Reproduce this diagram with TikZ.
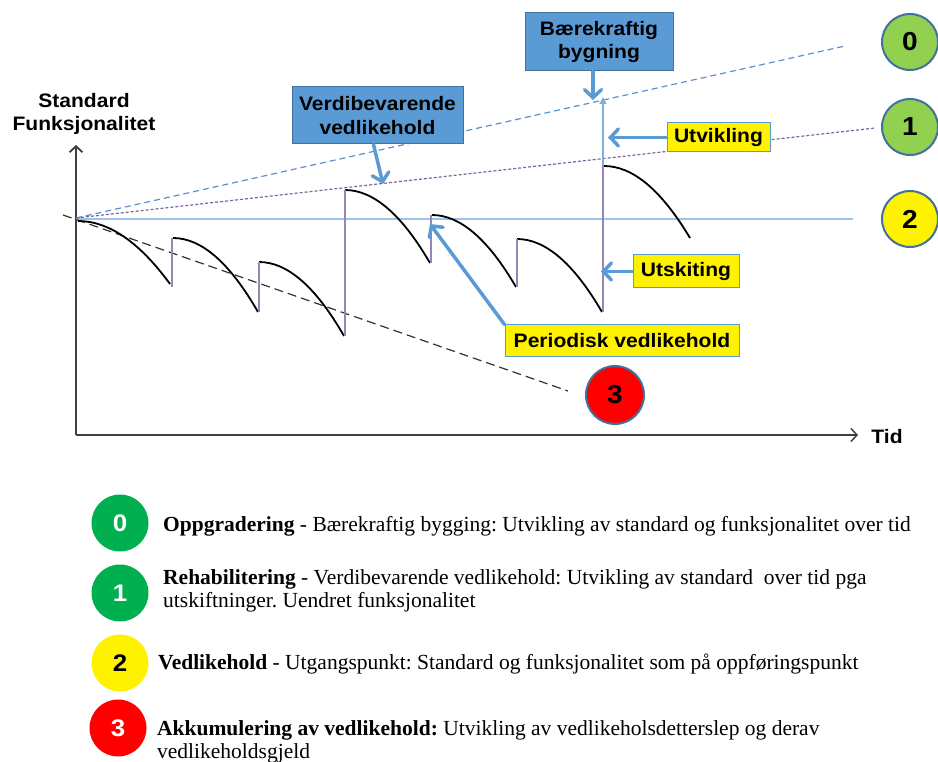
\documentclass[tikz,border=0pt]{standalone}
\usepackage{fontspec}
\setmainfont{Liberation Serif}
\newfontfamily\labelfont{Liberation Sans}[FakeStretch=1.08]
\usepackage{tikz}
\usetikzlibrary{arrows.meta}
\frenchspacing
\definecolor{boxBlue}{HTML}{5B9BD5}
\definecolor{boxEdge}{HTML}{41719C}
\definecolor{lineBlue}{HTML}{5B8FD0}
\definecolor{linePurple}{HTML}{8064A2}
\definecolor{baseBlue}{HTML}{9DC3E6}
\definecolor{levelGreen}{HTML}{92D050}
\definecolor{legendGreen}{HTML}{00B050}
\definecolor{axisGray}{HTML}{404040}
\newcommand{\lblsize}{\fontsize{19.5pt}{23.5pt}\selectfont}
\newcommand{\legsize}{\fontsize{21.5pt}{23pt}\selectfont}
\tikzstyle{fLabel} = [inner sep=0pt, align=center, font=\labelfont\bfseries\lblsize]
\tikzstyle{fBlueLabel} = [fLabel, rectangle, draw=boxEdge, line width=1pt, fill=boxBlue]
\tikzstyle{fYellowLabel} = [fLabel, rectangle, draw=boxBlue, line width=1pt, fill=yellow]
\tikzstyle{fCallout} = [boxBlue, line width=3.5pt, line cap=round, -{Straight Barb[length=8pt,width=17pt,line cap=round]}]
\tikzstyle{fLevel} = [circle, draw=boxEdge, line width=2pt, minimum size=56pt, inner sep=0pt, font=\labelfont\bfseries\fontsize{26pt}{30pt}\selectfont]
\tikzstyle{fLegendDot} = [circle, minimum size=57pt, inner sep=0pt, font=\labelfont\bfseries\fontsize{24pt}{28pt}\selectfont]
\tikzstyle{fLegendText} = [anchor=base west, inner sep=0pt, font=\legsize]
\tikzstyle{fDecay} = [black, line width=1.8pt]
\tikzstyle{fJump} = [linePurple!80, line width=1.2pt]

\begin{document}
\begin{tikzpicture}[x=1pt, y=-1pt]
    \useasboundingbox (0,0) rectangle (938,762);

    % axes
    \coordinate (origin) at (76,435);
    \coordinate (ytop) at (76,145);
    \coordinate (xend) at (858,435);
    \draw [axisGray, line width=1.8pt, -{Straight Barb[length=6pt,width=13pt]}] (origin) -- (ytop);
    \draw [axisGray, line width=1.5pt, -{Straight Barb[length=6pt,width=13pt]}] (origin) -- (xend);
    \node (ylabel) [fLabel] at (84,114) {Standard\\Funksjonalitet};
    \node (tid) [fLabel] at (887,437) {Tid};

    % reference lines
    \coordinate (start) at (76,218);
    \draw [baseBlue, line width=1.2pt] (76,219) -- (853,219);
    \draw [lineBlue, line width=1.2pt, dash pattern=on 6pt off 4pt] (start) -- (845,46);
    \draw [linePurple, line width=1.2pt, dash pattern=on 3pt off 2pt] (start) -- (875,128);
    \draw [black!80, line width=1.2pt, dash pattern=on 9pt off 5pt] (63,215) -- (568,391);

    % decay curves and jumps
    \foreach \xa/\ya/\xb/\yb in {78/221/170/284, 173/238/258/312, 259/262/344/336, 345/190/430/263, 432/215/516/287, 517/239/602/312, 604/166/690/238}
        \draw [fDecay] (\xa,\ya) .. controls ({\xa+(\xb-\xa)/3},\ya) and ({\xb-(\xb-\xa)/3},{\ya+(\yb-\ya)/3}) .. (\xb,\yb);
    \foreach \x/\ya/\yb in {172/287/238, 259/312/262, 345/336/190, 431/263/215, 517/287/239, 603/312/166}
        \draw [fJump] (\x,\ya) -- (\x,\yb);
    \coordinate (jumpTop) at (603,166);
    \coordinate (newLevel) at (603,97);
    \draw [boxBlue!80, line width=1.2pt, -{Triangle[length=7pt,width=7pt]}] (jumpTop) -- (newLevel);

    % labels
    \node (vedl) [fBlueLabel, minimum width=171pt, minimum height=57pt] at (377.5,115.5) {Verdibevarende\\vedlikehold};
    \node (bygg) [fBlueLabel, minimum width=148pt, minimum height=58pt] at (599,42) {Bærekraftig\\bygning};
    \node (utv) [fYellowLabel, minimum width=103pt, minimum height=29pt] at (718.5,137.5) {Utvikling};
    \node (utsk) [fYellowLabel, minimum width=106pt, minimum height=33pt] at (686,271.5) {Utskiting};
    \node (period) [fYellowLabel, minimum width=234pt, minimum height=32pt] at (622,341) {Periodisk vedlikehold};

    \coordinate (vedlTip) at (383,184);
    \coordinate (byggTip) at (593,100);
    \coordinate (utvTip) at (608,137.5);
    \coordinate (utskTip) at (601,271.5);
    \coordinate (periodTip) at (430,224);
    \draw [fCallout] ([xshift=-4pt]vedl.south) -- (vedlTip);
    \draw [fCallout] ([xshift=-6pt]bygg.south) -- (byggTip);
    \draw [fCallout] (utv.west) -- (utvTip);
    \draw [fCallout] (utsk.west) -- (utskTip);
    \draw [fCallout] (period.north west) -- (periodTip);

    % level markers
    \node (lvl0) [fLevel, fill=levelGreen] at (910,42) {0};
    \node (lvl1) [fLevel, fill=levelGreen] at (910,127) {1};
    \node (lvl2) [fLevel, fill=yellow] at (910,219) {2};
    \node (lvl3) [fLevel, fill=red, minimum size=58pt] at (615,395) {3};

    % legend
    \node (dot0) [fLegendDot, fill=legendGreen, text=white] at (120,523) {0};
    \node (dot1) [fLegendDot, fill=legendGreen, text=white] at (120,593) {1};
    \node (dot2) [fLegendDot, fill=yellow] at (120,663) {2};
    \node (dot3) [fLegendDot, fill=red, text=white] at (118,728) {3};
    \node (leg0) [fLegendText] at (163,531) {\textbf{Oppgradering} - Bærekraftig bygging: Utvikling av standard og funksjonalitet over tid};
    \node (leg1) [fLegendText] at (163,584) {\textbf{Rehabilitering} - Verdibevarende vedlikehold: Utvikling av standard\ \ over tid pga};
    \node (leg1b) [fLegendText] at (163,607) {utskiftninger. Uendret funksjonalitet};
    \node (leg2) [fLegendText] at (158,669) {\textbf{Vedlikehold} - Utgangspunkt: Standard og funksjonalitet som på oppføringspunkt};
    \node (leg3) [fLegendText] at (157,735) {\textbf{Akkumulering av vedlikehold:} Utvikling av vedlikeholsdetterslep og derav};
    \node (leg3b) [fLegendText] at (157,758) {vedlikeholdsgjeld};
\end{tikzpicture}
\end{document}
